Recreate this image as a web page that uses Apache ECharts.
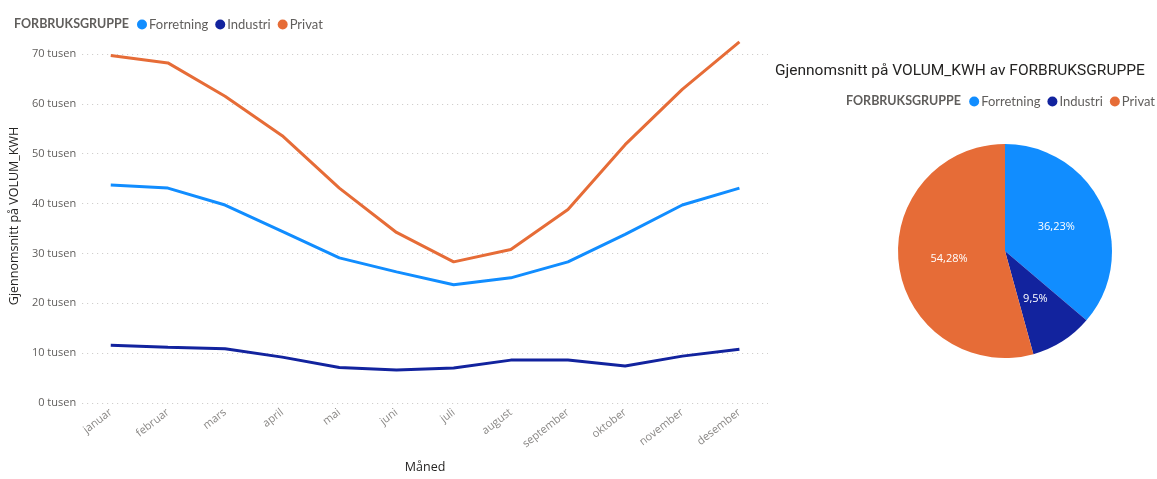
<!DOCTYPE html>
<html>
<head>
<meta charset="utf-8">
<script src="https://cdn.jsdelivr.net/npm/echarts@6/dist/echarts.min.js"></script>
<style>
  html, body { margin: 0; padding: 0; background: #fff; }
  #chart { width: 1157px; height: 479px; }
</style>
</head>
<body>
<div id="chart"></div>
<script>
// data
const months = ['januar', 'februar', 'mars', 'april', 'mai', 'juni', 'juli', 'august', 'september', 'oktober', 'november', 'desember'];
const forretning = [43700, 43100, 39700, 34400, 29100, 26300, 23700, 25100, 28300, 33800, 39700, 43100];
const industri = [11600, 11200, 10900, 9200, 7100, 6600, 7000, 8600, 8600, 7400, 9400, 10800];
const privat = [69700, 68200, 61500, 53600, 43100, 34200, 28300, 30800, 38800, 51800, 62900, 72400];
const groups = ['Forretning', 'Industri', 'Privat'];
const pieShares = [36.23, 9.5, 54.28];
const yTicks = [0, 10000, 20000, 30000, 40000, 50000, 60000, 70000];

const colors = ['#118DFF', '#12239E', '#E66C37'];
const font = 'Open Sans';
const legendFont = 'Lato';
const grey = '#605E5C';

const chart = echarts.init(document.getElementById('chart'));

chart.setOption({
  animation: false,
  color: colors,
  textStyle: {fontFamily: font},
  title: [
    {text: 'FORBRUKSGRUPPE', left: 9, top: 12,
      textStyle: {fontSize: 12.5, fontWeight: 'bold', color: grey, fontFamily: legendFont}},
    {text: 'Gjennomsnitt på VOLUM_KWH av FORBRUKSGRUPPE', left: 770, top: 58,
      textStyle: {fontSize: 15.5, fontWeight: 'normal', color: '#252423', fontFamily: 'Roboto'}},
    {text: 'FORBRUKSGRUPPE', left: 841, top: 89,
      textStyle: {fontSize: 12.5, fontWeight: 'bold', color: grey, fontFamily: legendFont}},
  ],
  legend: [
    {
      data: groups, left: 132, top: 13, icon: 'circle',
      itemWidth: 10, itemHeight: 10, itemGap: 7,
      textStyle: {fontSize: 13, color: grey, fontFamily: legendFont, padding: [0, 0, 0, -3]},
    },
    {
      data: groups, right: -3, top: 90, icon: 'circle',
      itemWidth: 10, itemHeight: 10, itemGap: 7,
      textStyle: {fontSize: 13, color: grey, fontFamily: legendFont, padding: [0, 0, 0, -3]},
    },
  ],
  grid: {left: 80, right: 389, top: 29, bottom: 71},
  xAxis: {
    type: 'category',
    data: months,
    boundaryGap: true,
    name: 'Måned',
    nameLocation: 'middle',
    nameGap: 58,
    nameTextStyle: {fontSize: 12.5, color: '#252423'},
    axisLine: {show: false},
    axisTick: {show: false},
    axisLabel: {rotate: 38, color: '#8a8886', fontSize: 11, margin: 8},
  },
  yAxis: {
    type: 'value',
    min: 0,
    max: 75000,
    interval: 10000,
    name: 'Gjennomsnitt på VOLUM_KWH',
    nameLocation: 'middle',
    nameGap: 58,
    nameTextStyle: {fontSize: 12.5, color: '#252423'},
    axisLabel: {
      color: grey, fontSize: 11, margin: 6, showMaxLabel: false,
      formatter: v => yTicks.includes(v) ? (v / 1000) + ' tusen' : '',
    },
    splitLine: {showMaxLine: false, lineStyle: {type: [1, 4], color: '#c8c6c4', width: 1}},
  },
  series: [
    {name: 'Forretning', type: 'line', data: forretning, showSymbol: false, lineStyle: {width: 3}},
    {name: 'Industri', type: 'line', data: industri, showSymbol: false, lineStyle: {width: 3}},
    {name: 'Privat', type: 'line', data: privat, showSymbol: false, lineStyle: {width: 3}},
    {
      name: 'FORBRUKSGRUPPE',
      type: 'pie',
      center: [1005, 251],
      radius: 107,
      startAngle: 90,
      clockwise: true,
      data: groups.map((g, i) => ({name: g, value: pieShares[i]})),
      label: {
        position: 'inside',
        color: '#fff',
        fontSize: 11,
        formatter: p => String(p.value).replace('.', ',') + '%',
      },
      labelLine: {show: false},
      itemStyle: {borderWidth: 0},
    },
  ],
});
</script>
</body>
</html>
